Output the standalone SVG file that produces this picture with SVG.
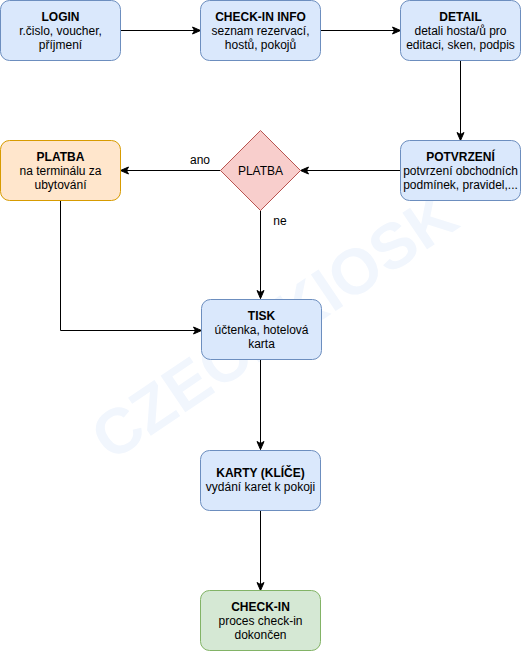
<svg xmlns="http://www.w3.org/2000/svg" width="521" height="652" viewBox="0 0 521 652">
<defs>
<style>
text{font-family:"Liberation Sans",Arial,Helvetica,sans-serif;font-size:12px;fill:#000;text-anchor:middle}
.t{font-weight:bold}
.blue{fill:#dae8fc;stroke:#6c8ebf;stroke-width:1}
.orange{fill:#ffe6cc;stroke:#d79b00;stroke-width:1}
.red{fill:#f8cecc;stroke:#b85450;stroke-width:1}
.green{fill:#d5e8d4;stroke:#82b366;stroke-width:1}
.e{fill:none;stroke:#000;stroke-width:1;marker-end:url(#arr)}
.wm{font-size:64px;font-weight:bold;fill:#f1f6fd;text-anchor:middle}
</style>
<marker id="arr" viewBox="0 0 10 10" refX="9" refY="5" markerWidth="10" markerHeight="10" markerUnits="userSpaceOnUse" orient="auto">
<path d="M1,1.5 L9,5 L1,8.5 L3,5 Z" fill="#000" stroke="#000" stroke-width="1"/>
</marker>
</defs>
<rect width="521" height="652" fill="#fff"/>
<text class="wm" x="274" y="348" transform="rotate(-34 274 326)">CZECHKIOSK</text>
<g id="connectors">
<path class="e" d="M120.5,30.5 H200.5"/>
<path class="e" d="M320.5,30.5 H400.5"/>
<path class="e" d="M460.5,60.5 V140.5"/>
<path class="e" d="M400.5,170.5 H300.5"/>
<path class="e" d="M220.5,170.5 H120.5"/>
<text x="200" y="164">ano</text>
<path class="e" d="M260.5,210.5 V298.5"/>
<text x="280" y="225">ne</text>
<path class="e" d="M60.5,200.5 V330.5 H201.5"/>
<path class="e" d="M260.5,359.5 V449.5"/>
<path class="e" d="M260.5,510.5 V590.5"/>
</g>
<g id="login">
<rect class="blue" x="0.5" y="0.5" width="120" height="60" rx="9"/>
<text class="t" x="60.5" y="21">LOGIN</text>
<text x="60.5" y="35">r.čislo, voucher,</text>
<text x="60.5" y="49">příjmení</text>
</g>
<g id="checkin-info">
<rect class="blue" x="200.5" y="0.5" width="120" height="60" rx="9"/>
<text class="t" x="260.5" y="21">CHECK-IN INFO</text>
<text x="260.5" y="35">seznam rezervací,</text>
<text x="260.5" y="49">hostů, pokojů</text>
</g>
<g id="detail">
<rect class="blue" x="400.5" y="0.5" width="120" height="60" rx="9"/>
<text class="t" x="460.5" y="21">DETAIL</text>
<text x="460.5" y="35">detali hosta/ů pro</text>
<text x="460.5" y="49">editaci, sken, podpis</text>
</g>
<g id="potvrzeni">
<rect class="blue" x="400.5" y="140.5" width="120" height="60" rx="9"/>
<text class="t" x="460.5" y="161">POTVRZENÍ</text>
<text x="460.5" y="175">potvrzení obchodních</text>
<text x="460.5" y="189">podmínek, pravidel,...</text>
</g>
<g id="platba-decision">
<path class="red" d="M260.5,130.5 L300.5,170.5 L260.5,210.5 L220.5,170.5 Z"/>
<text x="260.5" y="175" fill="#333">PLATBA</text>
</g>
<g id="platba">
<rect class="orange" x="0.5" y="140.5" width="120" height="60" rx="9"/>
<text class="t" x="60.5" y="161">PLATBA</text>
<text x="60.5" y="175">na terminálu za</text>
<text x="60.5" y="189">ubytování</text>
</g>
<g id="tisk">
<rect class="blue" x="201.5" y="299.5" width="120" height="60" rx="9"/>
<text class="t" x="261.5" y="320">TISK</text>
<text x="261.5" y="334">účtenka, hotelová</text>
<text x="261.5" y="348">karta</text>
</g>
<g id="karty">
<rect class="blue" x="200.5" y="450.5" width="120" height="60" rx="9"/>
<text class="t" x="260.5" y="477">KARTY (KLÍČE)</text>
<text x="260.5" y="491">vydání karet k pokoji</text>
</g>
<g id="checkin">
<rect class="green" x="200.5" y="590.5" width="120" height="60" rx="9"/>
<text class="t" x="260.5" y="611">CHECK-IN</text>
<text x="260.5" y="625">proces check-in</text>
<text x="260.5" y="639">dokončen</text>
</g>
</svg>
